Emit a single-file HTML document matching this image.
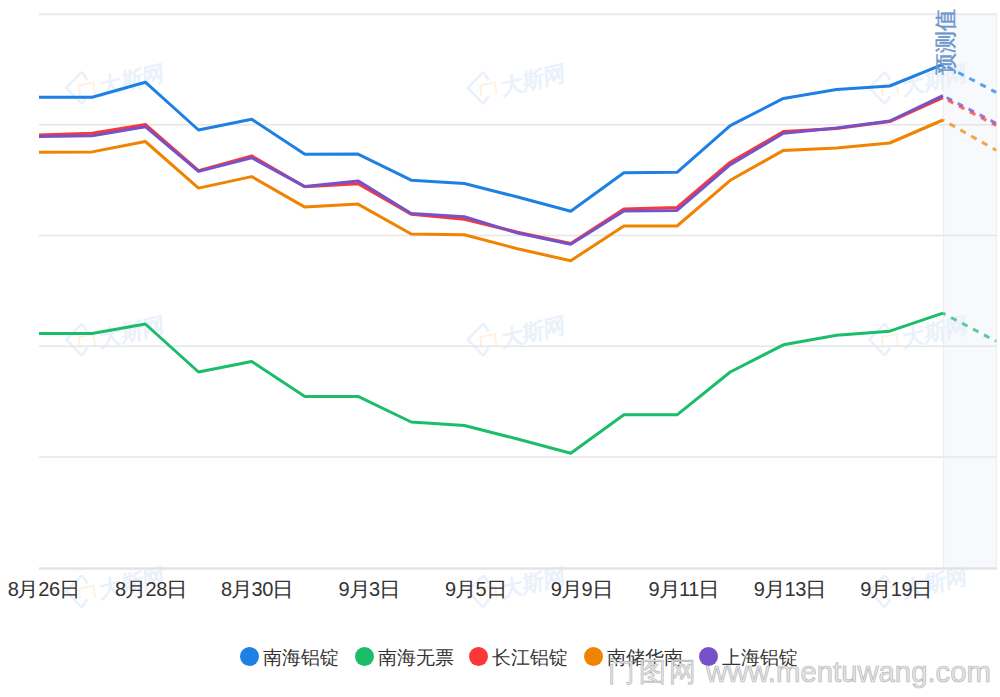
<!DOCTYPE html>
<html><head><meta charset="utf-8"><style>
html,body{margin:0;padding:0;background:#fff;}
body{width:1000px;height:697px;position:relative;overflow:hidden;font-family:"Liberation Sans",sans-serif;}
svg{position:absolute;left:0;top:0;}
.xl{position:absolute;top:577px;font-size:20px;color:#333;white-space:nowrap;transform:translateX(-50%);line-height:24px;letter-spacing:-0.3px;}
.cj{display:inline-block;transform:scaleX(1.08);}
.lg{position:absolute;top:647px;height:20px;}
.dot{position:absolute;width:19px;height:19px;border-radius:50%;top:0;}
.lt{position:absolute;left:23px;top:-0.3px;font-size:19px;line-height:22px;color:#333;white-space:nowrap;}
.wm1{position:absolute;left:608px;top:655px;font-size:27px;letter-spacing:3.5px;color:#e6e6e6;white-space:nowrap;line-height:34px;-webkit-text-stroke:0.6px #b6b6b6;}
.wm2{position:absolute;left:706px;top:654.5px;font-size:29.3px;color:#e6e6e6;white-space:nowrap;line-height:34px;-webkit-text-stroke:0.7px #b6b6b6;}
.pred{position:absolute;left:934px;top:8px;width:24px;height:68px;}
.pred span{position:absolute;left:50%;top:50%;transform:translate(-50%,-50%) rotate(-90deg);font-size:21.5px;color:#6f96cc;white-space:nowrap;line-height:24px;-webkit-text-stroke:0.45px #6f96cc;}
</style></head><body>
<svg width="1000" height="697" viewBox="0 0 1000 697">
<rect x="943.5" y="14" width="52.5" height="554" fill="#f7f9fc"/>
<line x1="943.5" y1="14" x2="943.5" y2="568" stroke="#eceef2" stroke-width="1.2"/>
<line x1="996.5" y1="14" x2="996.5" y2="568" stroke="#eff0f2" stroke-width="1.4"/>
<g transform="translate(66.3,87.9)"><path d="M15.5,-16 L0,0 L15.5,16 M15.5,-16 L21,-8 M15.5,16 L21,8" stroke="#eaf1fb" stroke-width="2.6" fill="none" stroke-linejoin="miter"/><path d="M13.5,8 L12.8,-2.5 L27,-5.5 L28.8,6.5" stroke="#fef1e2" stroke-width="2" fill="none"/><text transform="translate(34,7) rotate(-13) skewX(-10)" font-size="22" font-weight="bold" fill="#eaf1fb" font-family="Liberation Sans, sans-serif">大斯网</text></g>
<g transform="translate(66.3,339.6)"><path d="M15.5,-16 L0,0 L15.5,16 M15.5,-16 L21,-8 M15.5,16 L21,8" stroke="#eaf1fb" stroke-width="2.6" fill="none" stroke-linejoin="miter"/><path d="M13.5,8 L12.8,-2.5 L27,-5.5 L28.8,6.5" stroke="#fef1e2" stroke-width="2" fill="none"/><text transform="translate(34,7) rotate(-13) skewX(-10)" font-size="22" font-weight="bold" fill="#eaf1fb" font-family="Liberation Sans, sans-serif">大斯网</text></g>
<g transform="translate(66.3,591.3)"><path d="M15.5,-16 L0,0 L15.5,16 M15.5,-16 L21,-8 M15.5,16 L21,8" stroke="#eaf1fb" stroke-width="2.6" fill="none" stroke-linejoin="miter"/><path d="M13.5,8 L12.8,-2.5 L27,-5.5 L28.8,6.5" stroke="#fef1e2" stroke-width="2" fill="none"/><text transform="translate(34,7) rotate(-13) skewX(-10)" font-size="22" font-weight="bold" fill="#eaf1fb" font-family="Liberation Sans, sans-serif">大斯网</text></g>
<g transform="translate(467.8,87.9)"><path d="M15.5,-16 L0,0 L15.5,16 M15.5,-16 L21,-8 M15.5,16 L21,8" stroke="#eaf1fb" stroke-width="2.6" fill="none" stroke-linejoin="miter"/><path d="M13.5,8 L12.8,-2.5 L27,-5.5 L28.8,6.5" stroke="#fef1e2" stroke-width="2" fill="none"/><text transform="translate(34,7) rotate(-13) skewX(-10)" font-size="22" font-weight="bold" fill="#eaf1fb" font-family="Liberation Sans, sans-serif">大斯网</text></g>
<g transform="translate(467.8,339.6)"><path d="M15.5,-16 L0,0 L15.5,16 M15.5,-16 L21,-8 M15.5,16 L21,8" stroke="#eaf1fb" stroke-width="2.6" fill="none" stroke-linejoin="miter"/><path d="M13.5,8 L12.8,-2.5 L27,-5.5 L28.8,6.5" stroke="#fef1e2" stroke-width="2" fill="none"/><text transform="translate(34,7) rotate(-13) skewX(-10)" font-size="22" font-weight="bold" fill="#eaf1fb" font-family="Liberation Sans, sans-serif">大斯网</text></g>
<g transform="translate(467.8,591.3)"><path d="M15.5,-16 L0,0 L15.5,16 M15.5,-16 L21,-8 M15.5,16 L21,8" stroke="#eaf1fb" stroke-width="2.6" fill="none" stroke-linejoin="miter"/><path d="M13.5,8 L12.8,-2.5 L27,-5.5 L28.8,6.5" stroke="#fef1e2" stroke-width="2" fill="none"/><text transform="translate(34,7) rotate(-13) skewX(-10)" font-size="22" font-weight="bold" fill="#eaf1fb" font-family="Liberation Sans, sans-serif">大斯网</text></g>
<g transform="translate(869.3,87.9)"><path d="M15.5,-16 L0,0 L15.5,16 M15.5,-16 L21,-8 M15.5,16 L21,8" stroke="#eaf1fb" stroke-width="2.6" fill="none" stroke-linejoin="miter"/><path d="M13.5,8 L12.8,-2.5 L27,-5.5 L28.8,6.5" stroke="#fef1e2" stroke-width="2" fill="none"/><text transform="translate(34,7) rotate(-13) skewX(-10)" font-size="22" font-weight="bold" fill="#eaf1fb" font-family="Liberation Sans, sans-serif">大斯网</text></g>
<g transform="translate(869.3,339.6)"><path d="M15.5,-16 L0,0 L15.5,16 M15.5,-16 L21,-8 M15.5,16 L21,8" stroke="#eaf1fb" stroke-width="2.6" fill="none" stroke-linejoin="miter"/><path d="M13.5,8 L12.8,-2.5 L27,-5.5 L28.8,6.5" stroke="#fef1e2" stroke-width="2" fill="none"/><text transform="translate(34,7) rotate(-13) skewX(-10)" font-size="22" font-weight="bold" fill="#eaf1fb" font-family="Liberation Sans, sans-serif">大斯网</text></g>
<g transform="translate(869.3,591.3)"><path d="M15.5,-16 L0,0 L15.5,16 M15.5,-16 L21,-8 M15.5,16 L21,8" stroke="#eaf1fb" stroke-width="2.6" fill="none" stroke-linejoin="miter"/><path d="M13.5,8 L12.8,-2.5 L27,-5.5 L28.8,6.5" stroke="#fef1e2" stroke-width="2" fill="none"/><text transform="translate(34,7) rotate(-13) skewX(-10)" font-size="22" font-weight="bold" fill="#eaf1fb" font-family="Liberation Sans, sans-serif">大斯网</text></g>
<line x1="39" y1="14.2" x2="997" y2="14.2" stroke="#ededed" stroke-width="2.6"/>
<line x1="39" y1="124.7" x2="997" y2="124.7" stroke="#e6e6e6" stroke-width="1.6"/>
<line x1="39" y1="235.5" x2="997" y2="235.5" stroke="#e6e6e6" stroke-width="1.6"/>
<line x1="39" y1="346.2" x2="997" y2="346.2" stroke="#e6e6e6" stroke-width="1.6"/>
<line x1="39" y1="457" x2="997" y2="457" stroke="#e6e6e6" stroke-width="1.6"/>
<line x1="39" y1="568.5" x2="997" y2="568.5" stroke="#e3e3e3" stroke-width="2.4"/>
<polyline points="39.00,97.30 92.17,97.30 145.34,82.20 198.52,130.00 251.69,119.30 304.86,154.30 358.03,154.10 411.20,180.20 464.38,183.50 517.55,197.00 570.72,211.20 623.89,172.70 677.06,172.30 730.24,125.70 783.41,98.40 836.58,89.40 889.75,86.00 942.92,64.40" fill="none" stroke="#1e80e3" stroke-width="3" stroke-linejoin="round" stroke-linecap="butt"/>
<polyline points="39.00,333.60 92.17,333.60 145.34,324.00 198.52,372.00 251.69,361.50 304.86,396.40 358.03,396.40 411.20,422.00 464.38,425.50 517.55,439.00 570.72,453.20 623.89,414.80 677.06,414.80 730.24,372.00 783.41,344.80 836.58,335.20 889.75,331.20 942.92,313.20" fill="none" stroke="#1bbd6b" stroke-width="3" stroke-linejoin="round" stroke-linecap="butt"/>
<polyline points="39.00,134.90 92.17,133.20 145.34,124.40 198.52,170.60 251.69,155.90 304.86,186.80 358.03,183.80 411.20,214.30 464.38,219.20 517.55,232.20 570.72,243.50 623.89,209.00 677.06,207.40 730.24,162.20 783.41,131.60 836.58,128.50 889.75,121.60 942.92,97.60" fill="none" stroke="#fc3737" stroke-width="3" stroke-linejoin="round" stroke-linecap="butt"/>
<polyline points="39.00,152.30 92.17,151.90 145.34,141.50 198.52,188.10 251.69,176.60 304.86,207.10 358.03,204.10 411.20,234.00 464.38,234.80 517.55,248.80 570.72,260.70 623.89,226.00 677.06,226.00 730.24,180.30 783.41,150.40 836.58,148.00 889.75,143.00 942.92,120.00" fill="none" stroke="#f08300" stroke-width="3" stroke-linejoin="round" stroke-linecap="butt"/>
<polyline points="39.00,136.60 92.17,135.70 145.34,126.70 198.52,171.40 251.69,157.70 304.86,186.60 358.03,180.90 411.20,213.50 464.38,216.80 517.55,233.00 570.72,244.20 623.89,211.00 677.06,210.40 730.24,164.70 783.41,133.20 836.58,128.00 889.75,121.00 942.92,95.60" fill="none" stroke="#7652c9" stroke-width="3" stroke-linejoin="round" stroke-linecap="butt"/>
<polyline points="942.92,64.40 996.10,92.40" fill="none" stroke="#1e80e3" stroke-opacity="0.72" stroke-width="3" stroke-dasharray="6.2 6.2" stroke-dashoffset="7.4"/>
<polyline points="942.92,313.20 996.10,341.20" fill="none" stroke="#1bbd6b" stroke-opacity="0.72" stroke-width="3" stroke-dasharray="6.2 6.2" stroke-dashoffset="3.2"/>
<polyline points="942.92,97.60 996.10,125.40" fill="none" stroke="#fc3737" stroke-opacity="0.72" stroke-width="3" stroke-dasharray="6.2 6.2" stroke-dashoffset="6.8"/>
<polyline points="942.92,120.00 996.10,150.20" fill="none" stroke="#f08300" stroke-opacity="0.72" stroke-width="3" stroke-dasharray="6.2 6.2" stroke-dashoffset="4.7"/>
<polyline points="942.92,95.60 996.10,123.30" fill="none" stroke="#7652c9" stroke-opacity="0.72" stroke-width="3" stroke-dasharray="6.2 6.2" stroke-dashoffset="8.3"/>
</svg>
<div class="xl" style="left:43.6px">8<span class="cj">月</span>26<span class="cj">日</span></div>
<div class="xl" style="left:150.9px">8<span class="cj">月</span>28<span class="cj">日</span></div>
<div class="xl" style="left:256.9px">8<span class="cj">月</span>30<span class="cj">日</span></div>
<div class="xl" style="left:369px">9<span class="cj">月</span>3<span class="cj">日</span></div>
<div class="xl" style="left:475.5px">9<span class="cj">月</span>5<span class="cj">日</span></div>
<div class="xl" style="left:581.4px">9<span class="cj">月</span>9<span class="cj">日</span></div>
<div class="xl" style="left:683.7px">9<span class="cj">月</span>11<span class="cj">日</span></div>
<div class="xl" style="left:789.8px">9<span class="cj">月</span>13<span class="cj">日</span></div>
<div class="xl" style="left:896.1px">9<span class="cj">月</span>19<span class="cj">日</span></div>
<div class="lg" style="left:240.2px"><div class="dot" style="background:#1e80e3"></div><div class="lt">南海铝锭</div></div>
<div class="lg" style="left:354.6px"><div class="dot" style="background:#1bbd6b"></div><div class="lt">南海无票</div></div>
<div class="lg" style="left:469.2px"><div class="dot" style="background:#fc3737"></div><div class="lt">长江铝锭</div></div>
<div class="lg" style="left:583.8px"><div class="dot" style="background:#f08300"></div><div class="lt">南储华南</div></div>
<div class="lg" style="left:698.8px"><div class="dot" style="background:#7652c9"></div><div class="lt">上海铝锭</div></div>
<div class="pred"><span>预测值</span></div>
<div class="wm1">门图网</div><div class="wm2">www.mentuwang.com</div>
</body></html>
